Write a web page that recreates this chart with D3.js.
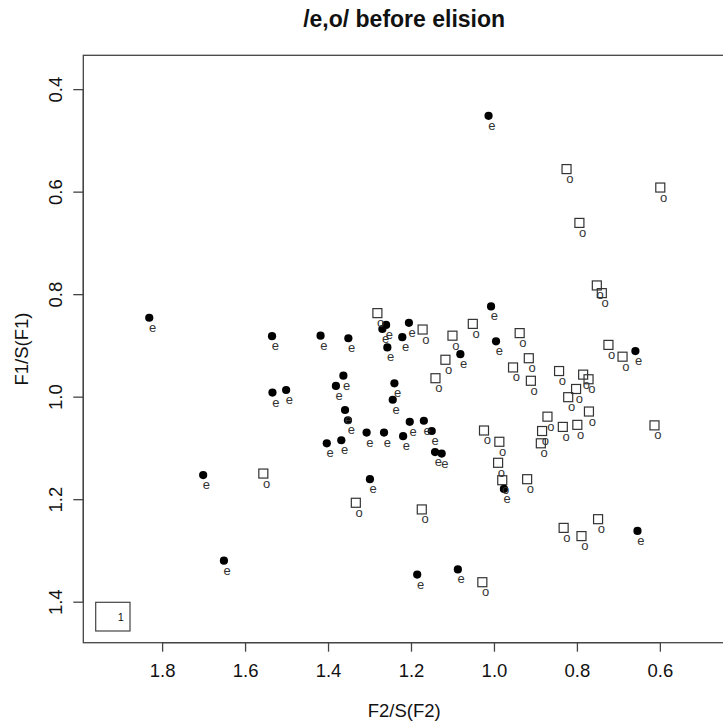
<!DOCTYPE html>
<html>
<head>
<meta charset="utf-8">
<script src="https://cdn.jsdelivr.net/npm/d3@7"></script>
<style>
  html, body { margin: 0; padding: 0; background: #fff; }
  svg { display: block; font-family: "Liberation Sans", Arial, Helvetica, sans-serif; }
</style>
</head>
<body>
<svg id="chart" width="723" height="725"></svg>
<script>
// Normalised formant values (F2/S(F2), F1/S(F1)) for the two vowel groups
const vowelLabels = ["e", "o"];

const eF2 = [1.013, 1.831, 1.535, 1.418, 1.534, 1.501, 1.403, 1.701, 1.651, 1.260,
             1.269, 1.205, 1.221, 1.351, 1.257, 1.007, 0.995, 1.081, 0.659, 1.363,
             1.381, 1.240, 1.244, 1.359, 1.352, 1.203, 1.169, 1.150, 1.307, 1.265,
             1.219, 1.368, 1.142, 1.126, 1.299, 0.976, 0.654, 1.185, 1.087];
const eF1 = [0.452, 0.846, 0.882, 0.881, 0.992, 0.987, 1.091, 1.153, 1.320, 0.860,
             0.868, 0.856, 0.884, 0.886, 0.904, 0.824, 0.892, 0.917, 0.911, 0.959,
             0.979, 0.974, 1.006, 1.026, 1.046, 1.049, 1.047, 1.067, 1.070, 1.070,
             1.077, 1.085, 1.108, 1.111, 1.161, 1.180, 1.262, 1.347, 1.337];

const oF2 = [1.281, 1.172, 1.100, 1.051, 1.117, 1.141, 1.024, 1.556, 1.333, 1.174,
             1.028, 0.825, 0.599, 0.794, 0.752, 0.740, 0.938, 0.916, 0.954, 0.911,
             0.843, 0.785, 0.772, 0.802, 0.821, 0.771, 0.724, 0.690, 0.613, 0.871,
             0.884, 0.887, 0.834, 0.799, 0.987, 0.990, 0.980, 0.920, 0.832, 0.789,
             0.749];
const oF1 = [0.837, 0.869, 0.881, 0.858, 0.928, 0.964, 1.066, 1.150, 1.207, 1.220,
             1.362, 0.556, 0.592, 0.661, 0.783, 0.798, 0.876, 0.925, 0.943, 0.969,
             0.950, 0.957, 0.966, 0.985, 1.001, 1.029, 0.899, 0.922, 1.056, 1.039,
             1.067, 1.091, 1.059, 1.055, 1.088, 1.129, 1.163, 1.161, 1.256, 1.272,
             1.239];

const xTicks = [1.8, 1.6, 1.4, 1.2, 1.0, 0.8, 0.6];
const yTicks = [0.4, 0.6, 0.8, 1.0, 1.2, 1.4];
const legendLabels = ["1"];

const chartTitle = "/e,o/ before elision";
const xTitle = "F2/S(F2)";
const yTitle = "F1/S(F1)";

// Plot frame (right edge runs just past the window)
const frame = { left: 83.3, right: 725, top: 55.3, bottom: 642.7 };

const svg = d3.select("#chart");

// Both axes are reversed, as in a vowel chart
const x = d3.scaleLinear().domain([1.990, 0.443]).range([frame.left, frame.right]);
const y = d3.scaleLinear().domain([0.334, 1.480]).range([frame.top, frame.bottom]);

const fmt = d3.format(".1f");

// Title
svg.append("text")
  .attr("x", (frame.left + frame.right) / 2)
  .attr("y", 27)
  .attr("text-anchor", "middle")
  .attr("font-size", 23)
  .attr("font-weight", "bold")
  .attr("fill", "#111")
  .text(chartTitle);

// Box around the plotting region
svg.append("rect")
  .attr("x", frame.left)
  .attr("y", frame.top)
  .attr("width", frame.right - frame.left)
  .attr("height", frame.bottom - frame.top)
  .attr("fill", "none")
  .attr("stroke", "#444")
  .attr("stroke-width", 1.3);

// Bottom axis
const xAxis = svg.append("g")
  .attr("transform", `translate(0,${frame.bottom})`)
  .call(d3.axisBottom(x).tickValues(xTicks).tickFormat(fmt).tickSize(9).tickPadding(12.3));
xAxis.select(".domain")
  .attr("d", `M${x(xTicks[0])},0H${x(xTicks[xTicks.length - 1])}`)
  .attr("stroke", "#444").attr("stroke-width", 1.3);
xAxis.selectAll(".tick line").attr("stroke", "#444").attr("stroke-width", 1.3);
xAxis.selectAll(".tick text")
  .attr("font-size", 18.5)
  .attr("font-family", "Liberation Sans, Arial, Helvetica, sans-serif")
  .attr("fill", "#111");

// Left axis with labels running parallel to the axis
const yAxis = svg.append("g")
  .attr("transform", `translate(${frame.left},0)`)
  .call(d3.axisLeft(y).tickValues(yTicks).tickFormat(fmt).tickSize(10));
yAxis.select(".domain")
  .attr("d", `M0,${y(yTicks[0])}V${y(yTicks[yTicks.length - 1])}`)
  .attr("stroke", "#444").attr("stroke-width", 1.3);
yAxis.selectAll(".tick line").attr("stroke", "#444").attr("stroke-width", 1.3);
yAxis.selectAll(".tick text")
  .attr("x", null)
  .attr("dy", null)
  .attr("text-anchor", "middle")
  .attr("transform", "translate(-21.5,0) rotate(-90)")
  .attr("font-size", 18.5)
  .attr("font-family", "Liberation Sans, Arial, Helvetica, sans-serif")
  .attr("fill", "#111");

// Axis titles
svg.append("text")
  .attr("x", (frame.left + frame.right) / 2)
  .attr("y", 717)
  .attr("text-anchor", "middle")
  .attr("font-size", 18.5)
  .attr("fill", "#111")
  .text(xTitle);

svg.append("text")
  .attr("transform", `translate(28,${(frame.top + frame.bottom) / 2}) rotate(-90)`)
  .attr("text-anchor", "middle")
  .attr("font-size", 18.5)
  .attr("fill", "#111")
  .text(yTitle);

// Point records
const ePts = eF2.map((v, i) => ({ f2: v, f1: eF1[i] }));
const oPts = oF2.map((v, i) => ({ f2: v, f1: oF1[i] }));

const plot = svg.append("g");

// /o/ tokens: open squares
const side = 9;
plot.selectAll("rect.o")
  .data(oPts)
  .join("rect")
  .attr("class", "o")
  .attr("x", d => x(d.f2) - side / 2)
  .attr("y", d => y(d.f1) - side / 2)
  .attr("width", side)
  .attr("height", side)
  .attr("fill", "none")
  .attr("stroke", "#333")
  .attr("stroke-width", 1.2);

// /e/ tokens: filled circles
plot.selectAll("circle.e")
  .data(ePts)
  .join("circle")
  .attr("class", "e")
  .attr("cx", d => x(d.f2))
  .attr("cy", d => y(d.f1))
  .attr("r", 4.1)
  .attr("fill", "#000");

// Vowel labels just below each token
function addLabels(pts, label) {
  plot.selectAll(null)
    .data(pts)
    .join("text")
    .attr("x", d => x(d.f2) + 3.3)
    .attr("y", d => y(d.f1) + 14)
    .attr("text-anchor", "middle")
    .attr("font-size", 13)
    .attr("fill", "#333")
    .text(label);
}
addLabels(oPts, vowelLabels[1]);
addLabels(ePts, vowelLabels[0]);

// Legend box
const legend = svg.append("g");
legend.append("rect")
  .attr("x", 95.7).attr("y", 602.3)
  .attr("width", 34.3).attr("height", 28.7)
  .attr("fill", "#fff")
  .attr("stroke", "#444")
  .attr("stroke-width", 1.2);
legend.selectAll("text")
  .data(legendLabels)
  .join("text")
  .attr("x", 120.7)
  .attr("y", 621)
  .attr("text-anchor", "middle")
  .attr("font-size", 11)
  .attr("fill", "#111")
  .text(d => d);
</script>
</body>
</html>
